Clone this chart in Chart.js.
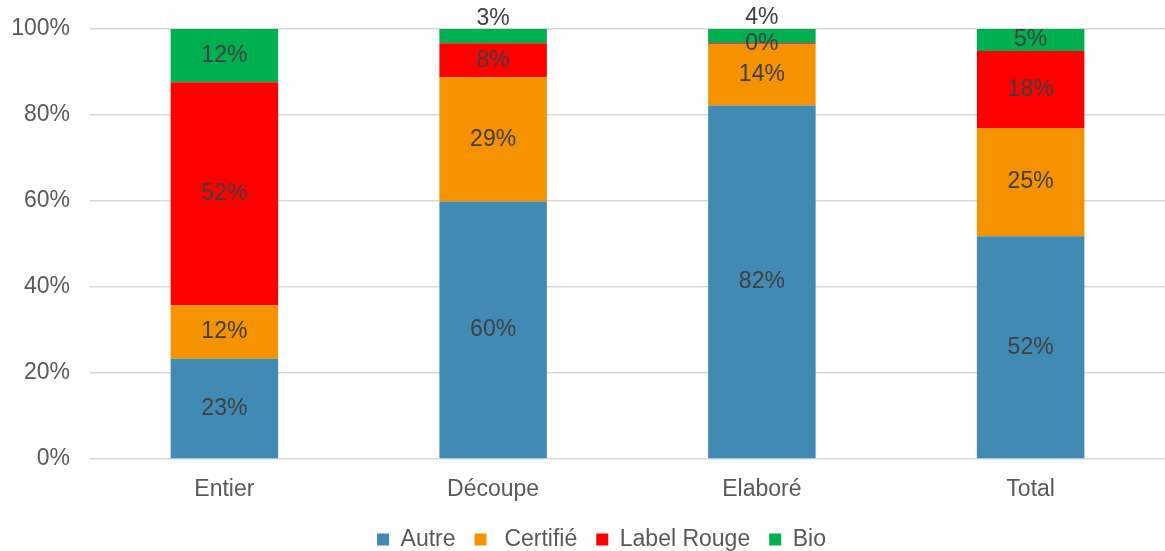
<!DOCTYPE html>
<html>
<head>
<meta charset="utf-8">
<script src="https://cdn.jsdelivr.net/npm/chart.js@4/dist/chart.umd.min.js"></script>
<style>
  html, body { margin: 0; padding: 0; background: #fff; }
  #wrap { width: 1165px; height: 551px; }
</style>
</head>
<body>
<div id="wrap"><canvas id="stack-chart"></canvas></div>
<script>
const categories = ["Entier", "Découpe", "Elaboré", "Total"];
const autre = [23.3, 59.9, 82.2, 51.8];
const certifie = [12.4, 28.9, 14.2, 25.2];
const labelRouge = [51.9, 7.9, 0.3, 17.9];
const bio = [12.4, 3.3, 3.7, 5.1];
const yTicks = [0, 20, 40, 60, 80, 100];

const seriesNames = ["Autre", " Certifié", "Label Rouge", "Bio"];
const colors = ["#418AB3", "#F59200", "#FF0000", "#00B050"];

const fam = "'Liberation Sans', Arial, sans-serif";
const fontSize = 23;

// draws the % labels in each segment (no datalabels plugin available)
const segLabels = {
  id: "segLabels",
  afterLayout(chart) {
    // legend sits a bit right of centre in the original
    chart.legend.left += 19;
    chart.legend.right += 19;
  },
  afterDatasetsDraw(chart) {
    const ctx = chart.ctx;
    ctx.save();
    ctx.font = fontSize + "px " + fam;
    ctx.fillStyle = "#404040";
    ctx.textAlign = "center";
    ctx.textBaseline = "middle";
    const last = chart.data.datasets.length - 1;
    chart.data.datasets.forEach((ds, i) => {
      const meta = chart.getDatasetMeta(i);
      meta.data.forEach((bar, j) => {
        const v = ds.data[j];
        const top = Math.min(bar.y, bar.base);
        const h = Math.abs(bar.base - bar.y);
        let y = top + h / 2;
        if (i === last && h < 20) y = top - 10;
        ctx.fillText(Math.round(v) + "%", bar.x, y);
      });
    });
    ctx.restore();
  }
};

const allSeries = [autre, certifie, labelRouge, bio];

new Chart(document.querySelector("#stack-chart"), {
  type: "bar",
  data: {
    labels: categories,
    datasets: allSeries.map((vals, i) => ({
      label: seriesNames[i],
      data: vals,
      backgroundColor: colors[i],
      borderWidth: 0,
      barPercentage: 0.4,
      categoryPercentage: 1
    }))
  },
  options: {
    responsive: true,
    maintainAspectRatio: false,
    animation: false,
    layout: { padding: { top: 29, right: 0, bottom: -10, left: 0 } },
    plugins: {
      tooltip: { enabled: false },
      legend: {
        position: "bottom",
        labels: {
          boxWidth: 12,
          boxHeight: 12,
          padding: 19,
          color: "#595959",
          font: { size: fontSize, family: fam }
        }
      }
    },
    scales: {
      x: {
        stacked: true,
        grid: { display: false },
        border: { display: false },
        afterFit(scale) { scale.height = 50; },
        ticks: {
          color: "#595959",
          padding: 9,
          font: { size: fontSize, family: fam }
        }
      },
      y: {
        stacked: true,
        min: 0,
        max: 100,
        afterFit(scale) {
          scale.width = 90;
          scale.paddingTop = 0;
          scale.paddingBottom = 0;
        },
        afterBuildTicks(scale) { scale.ticks = yTicks.map(v => ({ value: v })); },
        border: { display: false },
        grid: { color: "#D9D9D9", lineWidth: 1.5, drawTicks: false },
        ticks: {
          color: "#595959",
          padding: 20,
          font: { size: fontSize, family: fam },
          callback: v => v + "%"
        }
      }
    }
  },
  plugins: [segLabels]
});
</script>
</body>
</html>
